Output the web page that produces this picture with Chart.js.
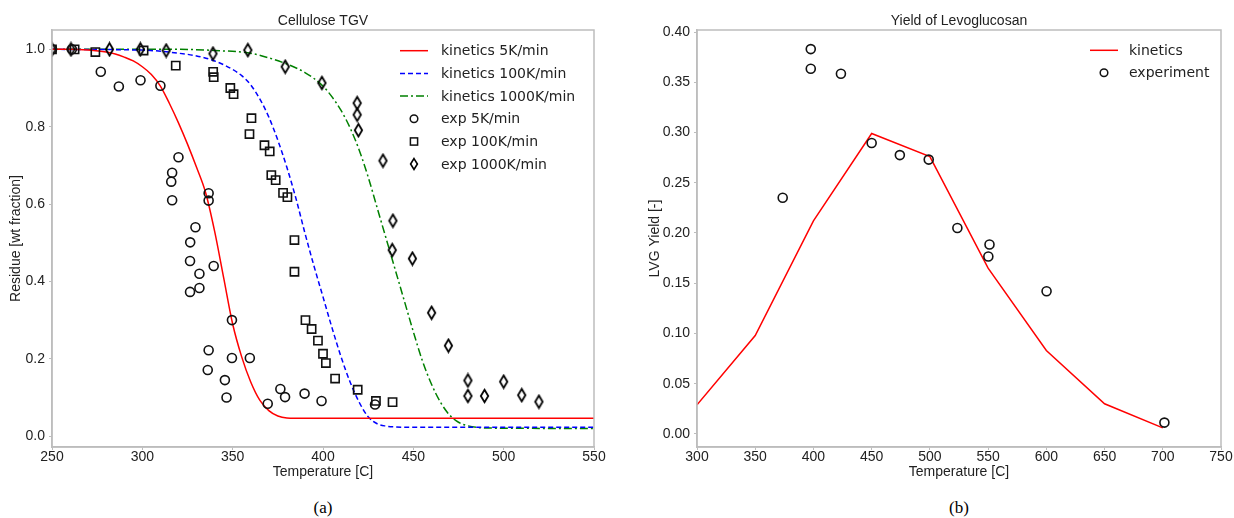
<!DOCTYPE html>
<html lang="en">
<head>
<meta charset="utf-8">
<title>Cellulose TGV / Yield of Levoglucosan</title>
<style>
  body { margin: 0; padding: 0; background: #fff; width: 1234px; height: 518px; position: relative; overflow: hidden; }
  .panel { position: absolute; top: 0; height: 490px; }
  .cap { position: absolute; top: 498px; width: 200px; text-align: center;
         font-family: "Liberation Serif", "DejaVu Serif", serif; font-size: 17px; color: #000; }
</style>
<script src="https://cdn.jsdelivr.net/npm/chart.js@4.4.0/dist/chart.umd.min.js"></script>
</head>
<body>
<div class="panel" style="left:0; width:620px;"><canvas id="tgv"></canvas></div>
<div class="panel" style="left:620px; width:614px;"><canvas id="lvg"></canvas></div>
<div class="cap" style="left:223px;">(a)</div>
<div class="cap" style="left:859px;">(b)</div>
<script>
// ---- (a) Cellulose TGV: kinetics curves
var kin5T = [250, 260, 270, 280, 285, 290, 295, 300, 305, 310, 315, 320, 325, 330, 335, 340, 345, 350, 355, 360, 365, 370, 375, 380, 390, 550];
var kin5Y = [1.0, 1.0, 0.998, 0.993, 0.988, 0.98, 0.97, 0.955, 0.935, 0.905, 0.86, 0.81, 0.755, 0.695, 0.63, 0.53, 0.41, 0.29, 0.205, 0.14, 0.093, 0.066, 0.052, 0.047, 0.046, 0.046];
var kin100T = [250, 300, 320, 330, 340, 350, 355, 360, 365, 370, 375, 380, 385, 390, 395, 400, 405, 410, 415, 420, 425, 430, 435, 440, 450, 550];
var kin100Y = [1.0, 0.998, 0.99, 0.983, 0.97, 0.948, 0.932, 0.908, 0.872, 0.825, 0.765, 0.695, 0.615, 0.525, 0.44, 0.36, 0.28, 0.205, 0.14, 0.088, 0.05, 0.032, 0.026, 0.024, 0.023, 0.023];
var kin1000T = [250, 320, 340, 360, 370, 380, 390, 400, 405, 410, 415, 420, 425, 430, 435, 440, 445, 450, 455, 460, 465, 470, 475, 480, 490, 550];
var kin1000Y = [1.0, 1.0, 0.997, 0.99, 0.978, 0.962, 0.94, 0.905, 0.877, 0.842, 0.797, 0.74, 0.67, 0.59, 0.51, 0.43, 0.35, 0.27, 0.195, 0.135, 0.088, 0.055, 0.036, 0.027, 0.021, 0.02];

// ---- (a) experiments
var exp5T = [250, 261, 277, 287, 299, 310, 320, 316.5, 316, 316.5, 336.7, 336.7, 329.4, 326.5, 326.4, 331.6, 339.5, 326.4, 331.6, 349.6, 336.7, 349.6, 359.5, 336.2, 345.7, 346.6, 369.4, 376.4, 379, 389.8, 399.2, 428.8];
var exp5Y = [1.0, 1.0, 0.942, 0.904, 0.92, 0.906, 0.721, 0.681, 0.658, 0.61, 0.628, 0.609, 0.54, 0.501, 0.453, 0.42, 0.44, 0.373, 0.383, 0.3, 0.222, 0.202, 0.202, 0.171, 0.145, 0.1, 0.084, 0.122, 0.101, 0.11, 0.091, 0.082];
var exp100T = [250, 262.5, 274, 300.7, 318.5, 339.2, 339.5, 348.7, 350.5, 360.4, 359.3, 367.6, 370.5, 371.4, 373.8, 377.9, 380.3, 384.2, 384.2, 390.3, 393.7, 397.2, 400, 401.6, 406.7, 419.2, 429.3, 438.5];
var exp100Y = [1.0, 1.0, 0.993, 0.997, 0.958, 0.942, 0.928, 0.9, 0.884, 0.822, 0.781, 0.752, 0.736, 0.675, 0.662, 0.629, 0.618, 0.507, 0.425, 0.3, 0.277, 0.247, 0.213, 0.189, 0.149, 0.12, 0.091, 0.088];
var exp1000T = [250, 260.5, 281.8, 298.9, 313.2, 339.1, 358.4, 379.1, 399.4, 418.9, 418.9, 419.6, 433.2, 438.7, 438.3, 449.5, 460.1, 469.4, 480.2, 480.2, 489.4, 500, 510, 519.5];
var exp1000Y = [1.0, 1.0, 1.0, 1.0, 0.997, 0.989, 0.998, 0.955, 0.913, 0.861, 0.831, 0.791, 0.712, 0.557, 0.481, 0.459, 0.319, 0.234, 0.144, 0.104, 0.104, 0.141, 0.106, 0.089];

var tgvXTicks = [250, 300, 350, 400, 450, 500, 550];
var tgvYTicks = [0.0, 0.2, 0.4, 0.6, 0.8, 1.0];

// ---- (b) Yield of Levoglucosan
var lvgKinT = [300, 350, 400, 450, 500, 550, 600, 650, 700];
var lvgKinY = [0.029, 0.098, 0.212, 0.299, 0.276, 0.165, 0.083, 0.030, 0.006];
var lvgExpT = [397.7, 397.7, 423.6, 373.6, 450, 474.2, 499, 523.6, 551.2, 550.2, 600.2, 701.4];
var lvgExpY = [0.383, 0.3635, 0.3585, 0.235, 0.2895, 0.2775, 0.273, 0.205, 0.1885, 0.1766, 0.142, 0.0113];

var lvgXTicks = [300, 350, 400, 450, 500, 550, 600, 650, 700, 750];
var lvgYTicks = [0.00, 0.05, 0.10, 0.15, 0.20, 0.25, 0.30, 0.35, 0.40];

function pts(xs, ys) {
  return xs.map(function (x, i) { return {x: x, y: ys[i]}; });
}

// thin diamond marker like matplotlib 'd'
function makeDiamond(w, h, lw) {
  var c = document.createElement('canvas');
  c.width = w; c.height = h;
  var g = c.getContext('2d');
  g.strokeStyle = '#000'; g.lineWidth = lw; g.lineJoin = 'miter';
  g.beginPath();
  g.moveTo(w / 2, lw); g.lineTo(w - lw, h / 2); g.lineTo(w / 2, h - lw); g.lineTo(lw, h / 2);
  g.closePath(); g.stroke();
  return c;
}
var diamond = makeDiamond(11, 16, 1.8);
var diamondSmall = makeDiamond(10, 14, 1.6);

Chart.defaults.font.family = "'Liberation Sans', Arial, sans-serif";
Chart.defaults.color = '#222';

var AX = '#bdbdbd';
var MK = '#111';

// frame, title above the axes and legend inside the axes
var frameAndLegend = {
  id: 'frameAndLegend',
  afterDraw: function (chart, args, o) {
    var ctx = chart.ctx, a = chart.chartArea;
    ctx.save();
    ctx.strokeStyle = AX; ctx.lineWidth = 1.5;
    ctx.strokeRect(a.left, a.top, a.right - a.left, a.bottom - a.top);

    ctx.fillStyle = '#222';
    ctx.font = '14px "Liberation Sans", Arial, sans-serif';
    ctx.textAlign = 'center'; ctx.textBaseline = 'middle';
    ctx.fillText(o.title, (a.left + a.right) / 2, 21);

    ctx.font = '14px "DejaVu Sans", sans-serif';
    ctx.textAlign = 'left';
    chart.data.datasets.forEach(function (ds, i) {
      var y = o.y + i * o.rowH, cx = o.x + o.lineLen / 2;
      if (ds.showLine) {
        ctx.strokeStyle = ds.borderColor; ctx.lineWidth = ds.borderWidth;
        ctx.setLineDash(ds.borderDash || []);
        ctx.beginPath(); ctx.moveTo(o.x, y); ctx.lineTo(o.x + o.lineLen, y); ctx.stroke();
        ctx.setLineDash([]);
      } else {
        ctx.strokeStyle = MK; ctx.lineWidth = 1.5;
        if (ds.pointStyle === 'circle') {
          ctx.beginPath(); ctx.arc(cx, y, 3.8, 0, Math.PI * 2); ctx.stroke();
        } else if (ds.pointStyle === 'rect') {
          ctx.strokeRect(cx - 3.6, y - 3.6, 7.2, 7.2);
        } else {
          ctx.drawImage(diamondSmall, Math.round(cx - diamondSmall.width / 2), Math.round(y - diamondSmall.height / 2));
        }
      }
      ctx.fillStyle = '#222';
      ctx.fillText(ds.label, o.x + o.textOff, y + 1);
    });
    ctx.restore();
  }
};

function axis(min, max, tickVals, digits, title, isX, size) {
  return {
    type: 'linear', min: min, max: max,
    afterBuildTicks: function (s) { s.ticks = tickVals.map(function (v) { return {value: v}; }); },
    afterFit: function (s) { if (isX) { s.height = size; } else { s.width = size; } },
    grid: {display: true, drawOnChartArea: false, drawTicks: true, tickLength: 3, color: AX, lineWidth: 1},
    border: {display: true, color: AX, width: 1.5},
    ticks: {font: {size: 14, lineHeight: 1.0}, color: '#222', padding: isX ? 0 : 4,
            maxRotation: 0, autoSkip: false,
            callback: function (v) { return Number(v).toFixed(digits); }},
    title: {display: true, text: title, font: {size: 14}, color: '#222', padding: {top: 0, bottom: 2}}
  };
}

function lineSet(label, xs, ys, color, dash) {
  return {label: label, data: pts(xs, ys), showLine: true, borderColor: color, backgroundColor: color,
          borderWidth: 1.5, borderDash: dash, pointRadius: 0, cubicInterpolationMode: 'monotone',
          fill: false, clip: 0, order: 2};
}
function markerSet(label, xs, ys, style, r) {
  return {label: label, data: pts(xs, ys), showLine: false, pointStyle: style, pointRadius: r,
          borderColor: MK, backgroundColor: 'rgba(0,0,0,0)', pointBorderWidth: 1.6, borderWidth: 1.6,
          clip: 0, order: 1};
}

new Chart(document.getElementById('tgv'), {
  type: 'scatter',
  data: {
    datasets: [
      lineSet('kinetics 5K/min', kin5T, kin5Y, '#ff0000', []),
      lineSet('kinetics 100K/min', kin100T, kin100Y, '#0000ff', [5, 3]),
      lineSet('kinetics 1000K/min', kin1000T, kin1000Y, '#008000', [8, 3, 2, 3]),
      markerSet('exp 5K/min', exp5T, exp5Y, 'circle', 4.5),
      markerSet('exp 100K/min', exp100T, exp100Y, 'rect', 5.8),
      markerSet('exp 1000K/min', exp1000T, exp1000Y, diamond, 5)
    ]
  },
  options: {
    responsive: true, maintainAspectRatio: false, animation: false,
    layout: {padding: {left: 8, top: 30, right: 26, bottom: 7}},
    plugins: {
      legend: {display: false}, tooltip: {enabled: false},
      frameAndLegend: {title: 'Cellulose TGV', x: 400, y: 50.7, rowH: 22.7, lineLen: 28, textOff: 41}
    },
    scales: {
      x: axis(250, 550, tgvXTicks, 0, 'Temperature [C]', true, 36),
      y: axis(-0.028, 1.05, tgvYTicks, 1, 'Residue [wt fraction]', false, 44)
    }
  },
  plugins: [frameAndLegend]
});

new Chart(document.getElementById('lvg'), {
  type: 'scatter',
  data: {
    datasets: [
      {label: 'kinetics', data: pts(lvgKinT, lvgKinY), showLine: true, borderColor: '#ff0000',
       backgroundColor: '#ff0000', borderWidth: 1.5, borderDash: [], pointRadius: 0, tension: 0,
       clip: 0, order: 2},
      markerSet('experiment', lvgExpT, lvgExpY, 'circle', 4.5)
    ]
  },
  options: {
    responsive: true, maintainAspectRatio: false, animation: false,
    layout: {padding: {left: 27, top: 30, right: 13, bottom: 7}},
    plugins: {
      legend: {display: false}, tooltip: {enabled: false},
      frameAndLegend: {title: 'Yield of Levoglucosan', x: 470, y: 50.3, rowH: 22.4, lineLen: 28, textOff: 39}
    },
    scales: {
      x: axis(300, 750, lvgXTicks, 0, 'Temperature [C]', true, 36),
      y: axis(-0.013, 0.402, lvgYTicks, 2, 'LVG Yield [-]', false, 50)
    }
  },
  plugins: [frameAndLegend]
});
</script>
</body>
</html>
